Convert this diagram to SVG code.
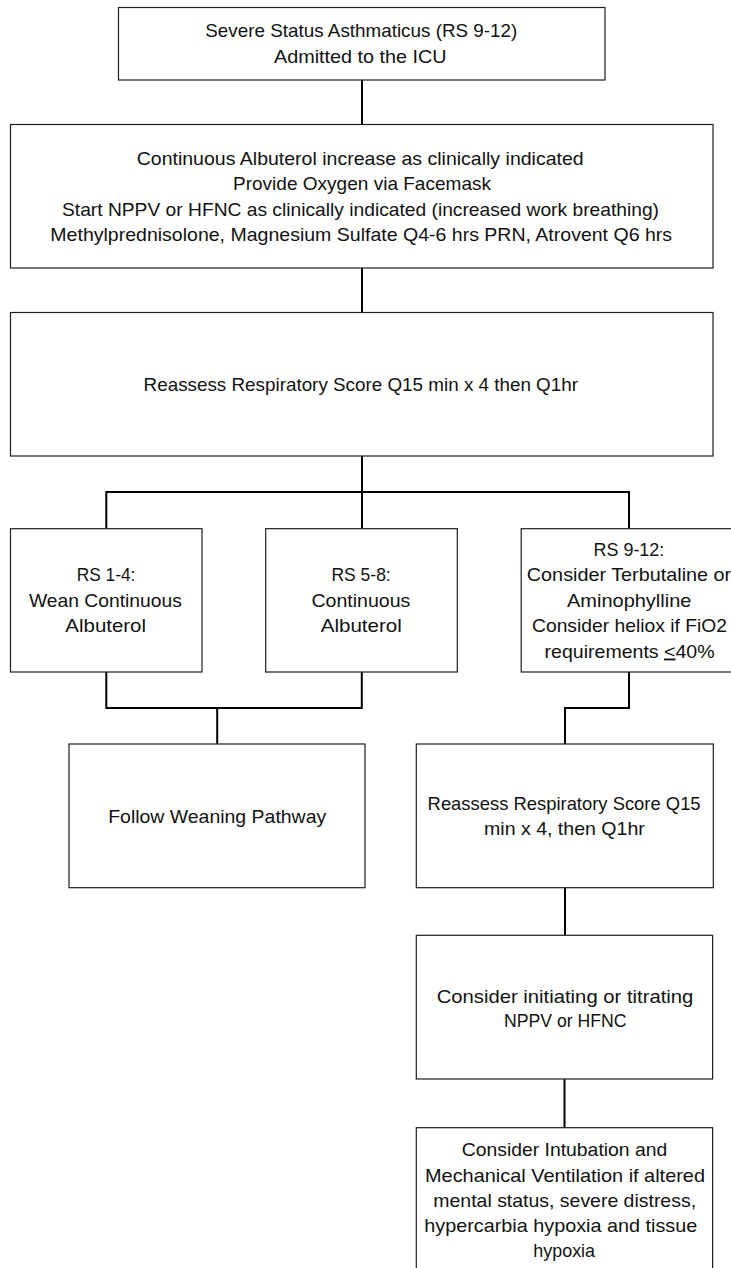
<svg xmlns="http://www.w3.org/2000/svg" width="731" height="1268" viewBox="0 0 731 1268">
<style>
.box{fill:#fff;stroke:#1e1e1e;stroke-width:1.2}
.t{font-family:"Liberation Sans",Arial,sans-serif;font-size:19px;fill:#111;text-anchor:middle}
.c{fill:none;stroke:#000;stroke-width:2}
</style>
<rect width="731" height="1268" fill="#fff"/>
<g id="connectors">
<path class="c" d="M362 80 V124"/>
<path class="c" d="M362 268 V312"/>
<path class="c" d="M362 456 V528.7"/>
<path class="c" d="M106.3 528.7 V492 H629 V528.7"/>
<path class="c" d="M106.3 672 V708 H361.8 V672"/>
<path class="c" d="M217.2 708 V744"/>
<path class="c" d="M629 672 V708 H565 V744"/>
<path class="c" d="M565 888 V935.3"/>
<path class="c" d="M564.5 1079 V1127.7"/>
</g>
<g id="n1">
<rect class="box" x="118.5" y="7.5" width="486.5" height="72.5"/>
<text class="t" x="361.3" y="36.5" textLength="312" lengthAdjust="spacingAndGlyphs">Severe Status Asthmaticus (RS 9-12)</text>
<text class="t" x="360.3" y="62.5" textLength="172.6" lengthAdjust="spacingAndGlyphs">Admitted to the ICU</text>
</g>
<g id="n2">
<rect class="box" x="10.5" y="124.5" width="702.5" height="143.5"/>
<text class="t" x="360.2" y="164.5" textLength="447" lengthAdjust="spacingAndGlyphs">Continuous Albuterol increase as clinically indicated</text>
<text class="t" x="362" y="190" textLength="258" lengthAdjust="spacingAndGlyphs">Provide Oxygen via Facemask</text>
<text class="t" x="360.5" y="215.5" textLength="597" lengthAdjust="spacingAndGlyphs">Start NPPV or HFNC as clinically indicated (increased work breathing)</text>
<text class="t" x="361.2" y="241" textLength="621.7" lengthAdjust="spacingAndGlyphs">Methylprednisolone, Magnesium Sulfate Q4-6 hrs PRN, Atrovent Q6 hrs</text>
</g>
<g id="n3">
<rect class="box" x="10.5" y="312.5" width="702.5" height="143.5"/>
<text class="t" x="360.8" y="390.7" textLength="434.4" lengthAdjust="spacingAndGlyphs">Reassess Respiratory Score Q15 min x 4 then Q1hr</text>
</g>
<g id="n4">
<rect class="box" x="10.5" y="528.7" width="191.5" height="143.3"/>
<text class="t" x="106" y="581" textLength="58.7" lengthAdjust="spacingAndGlyphs">RS 1-4:</text>
<text class="t" x="105.4" y="606.5" textLength="152.9" lengthAdjust="spacingAndGlyphs">Wean Continuous</text>
<text class="t" x="105.7" y="632" textLength="80.7" lengthAdjust="spacingAndGlyphs">Albuterol</text>
</g>
<g id="n5">
<rect class="box" x="265.7" y="528.7" width="191.6" height="143.3"/>
<text class="t" x="361.1" y="581" textLength="59.2" lengthAdjust="spacingAndGlyphs">RS 5-8:</text>
<text class="t" x="360.9" y="606.5" textLength="98.9" lengthAdjust="spacingAndGlyphs">Continuous</text>
<text class="t" x="361.3" y="632" textLength="81.2" lengthAdjust="spacingAndGlyphs">Albuterol</text>
</g>
<g id="n6">
<rect class="box" x="521.2" y="528.7" width="215.6" height="143.3"/>
<text class="t" x="628.9" y="555.5" textLength="70.8" lengthAdjust="spacingAndGlyphs">RS 9-12:</text>
<text class="t" x="629" y="581" textLength="204.4" lengthAdjust="spacingAndGlyphs">Consider Terbutaline or</text>
<text class="t" x="629.2" y="606.5" textLength="124.4" lengthAdjust="spacingAndGlyphs">Aminophylline</text>
<text class="t" x="629.5" y="632" textLength="195" lengthAdjust="spacingAndGlyphs">Consider heliox if FiO2</text>
<text class="t" x="629.6" y="657.5" textLength="170" lengthAdjust="spacingAndGlyphs">requirements <tspan text-decoration="underline">&lt;</tspan>40%</text>
</g>
<g id="n7">
<rect class="box" x="69" y="744" width="296" height="143.7"/>
<text class="t" x="217.2" y="822.7" textLength="218" lengthAdjust="spacingAndGlyphs">Follow Weaning Pathway</text>
</g>
<g id="n8">
<rect class="box" x="416.3" y="744" width="297" height="143.7"/>
<text class="t" x="564.1" y="809.7" textLength="273" lengthAdjust="spacingAndGlyphs">Reassess Respiratory Score Q15</text>
<text class="t" x="564.4" y="834.5" textLength="160.8" lengthAdjust="spacingAndGlyphs">min x 4, then Q1hr</text>
</g>
<g id="n9">
<rect class="box" x="416.3" y="935.3" width="296.3" height="143.7"/>
<text class="t" x="565" y="1003.2" textLength="256.7" lengthAdjust="spacingAndGlyphs">Consider initiating or titrating</text>
<text class="t" x="565.3" y="1027.4" textLength="122.7" lengthAdjust="spacingAndGlyphs">NPPV or HFNC</text>
</g>
<g id="n10">
<rect class="box" x="416.3" y="1127.7" width="296.3" height="150"/>
<text class="t" x="564.5" y="1155.7" textLength="205.6" lengthAdjust="spacingAndGlyphs">Consider Intubation and</text>
<text class="t" x="565" y="1181.5" textLength="280" lengthAdjust="spacingAndGlyphs">Mechanical Ventilation if altered</text>
<text class="t" x="564.7" y="1207" textLength="262.7" lengthAdjust="spacingAndGlyphs">mental status, severe distress,</text>
<text class="t" x="560.8" y="1232" textLength="273" lengthAdjust="spacingAndGlyphs">hypercarbia hypoxia and tissue</text>
<text class="t" x="564.2" y="1256.5" textLength="61.7" lengthAdjust="spacingAndGlyphs">hypoxia</text>
</g>
</svg>
